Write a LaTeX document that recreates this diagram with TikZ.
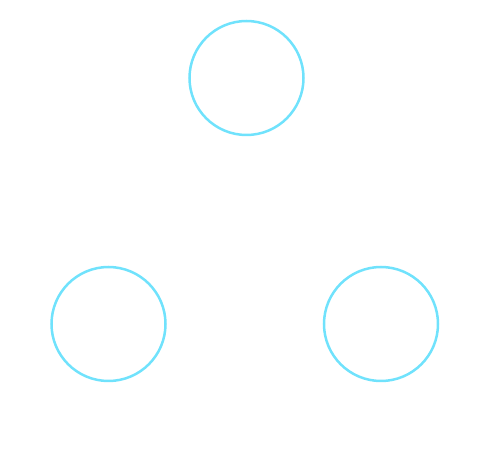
\documentclass[tikz,border=0pt]{standalone}
\usepackage{tikz}
\usetikzlibrary{positioning}
\definecolor{ring}{HTML}{70E2FC}
\tikzset{
  blob/.style={circle, draw=ring, line width=2.5pt, minimum size=114pt, inner sep=0pt},
}
\begin{document}
\begin{tikzpicture}[x=1pt, y=-1pt]
  \useasboundingbox (0,0) rectangle (499,470);
  % three rings, one on top and two below
  \node[blob] (top) at (246.5,78) {};
  \node[blob] (left) at (108.5,324) {};
  \node[blob] (right) at (381,324) {};
\end{tikzpicture}
\end{document}
